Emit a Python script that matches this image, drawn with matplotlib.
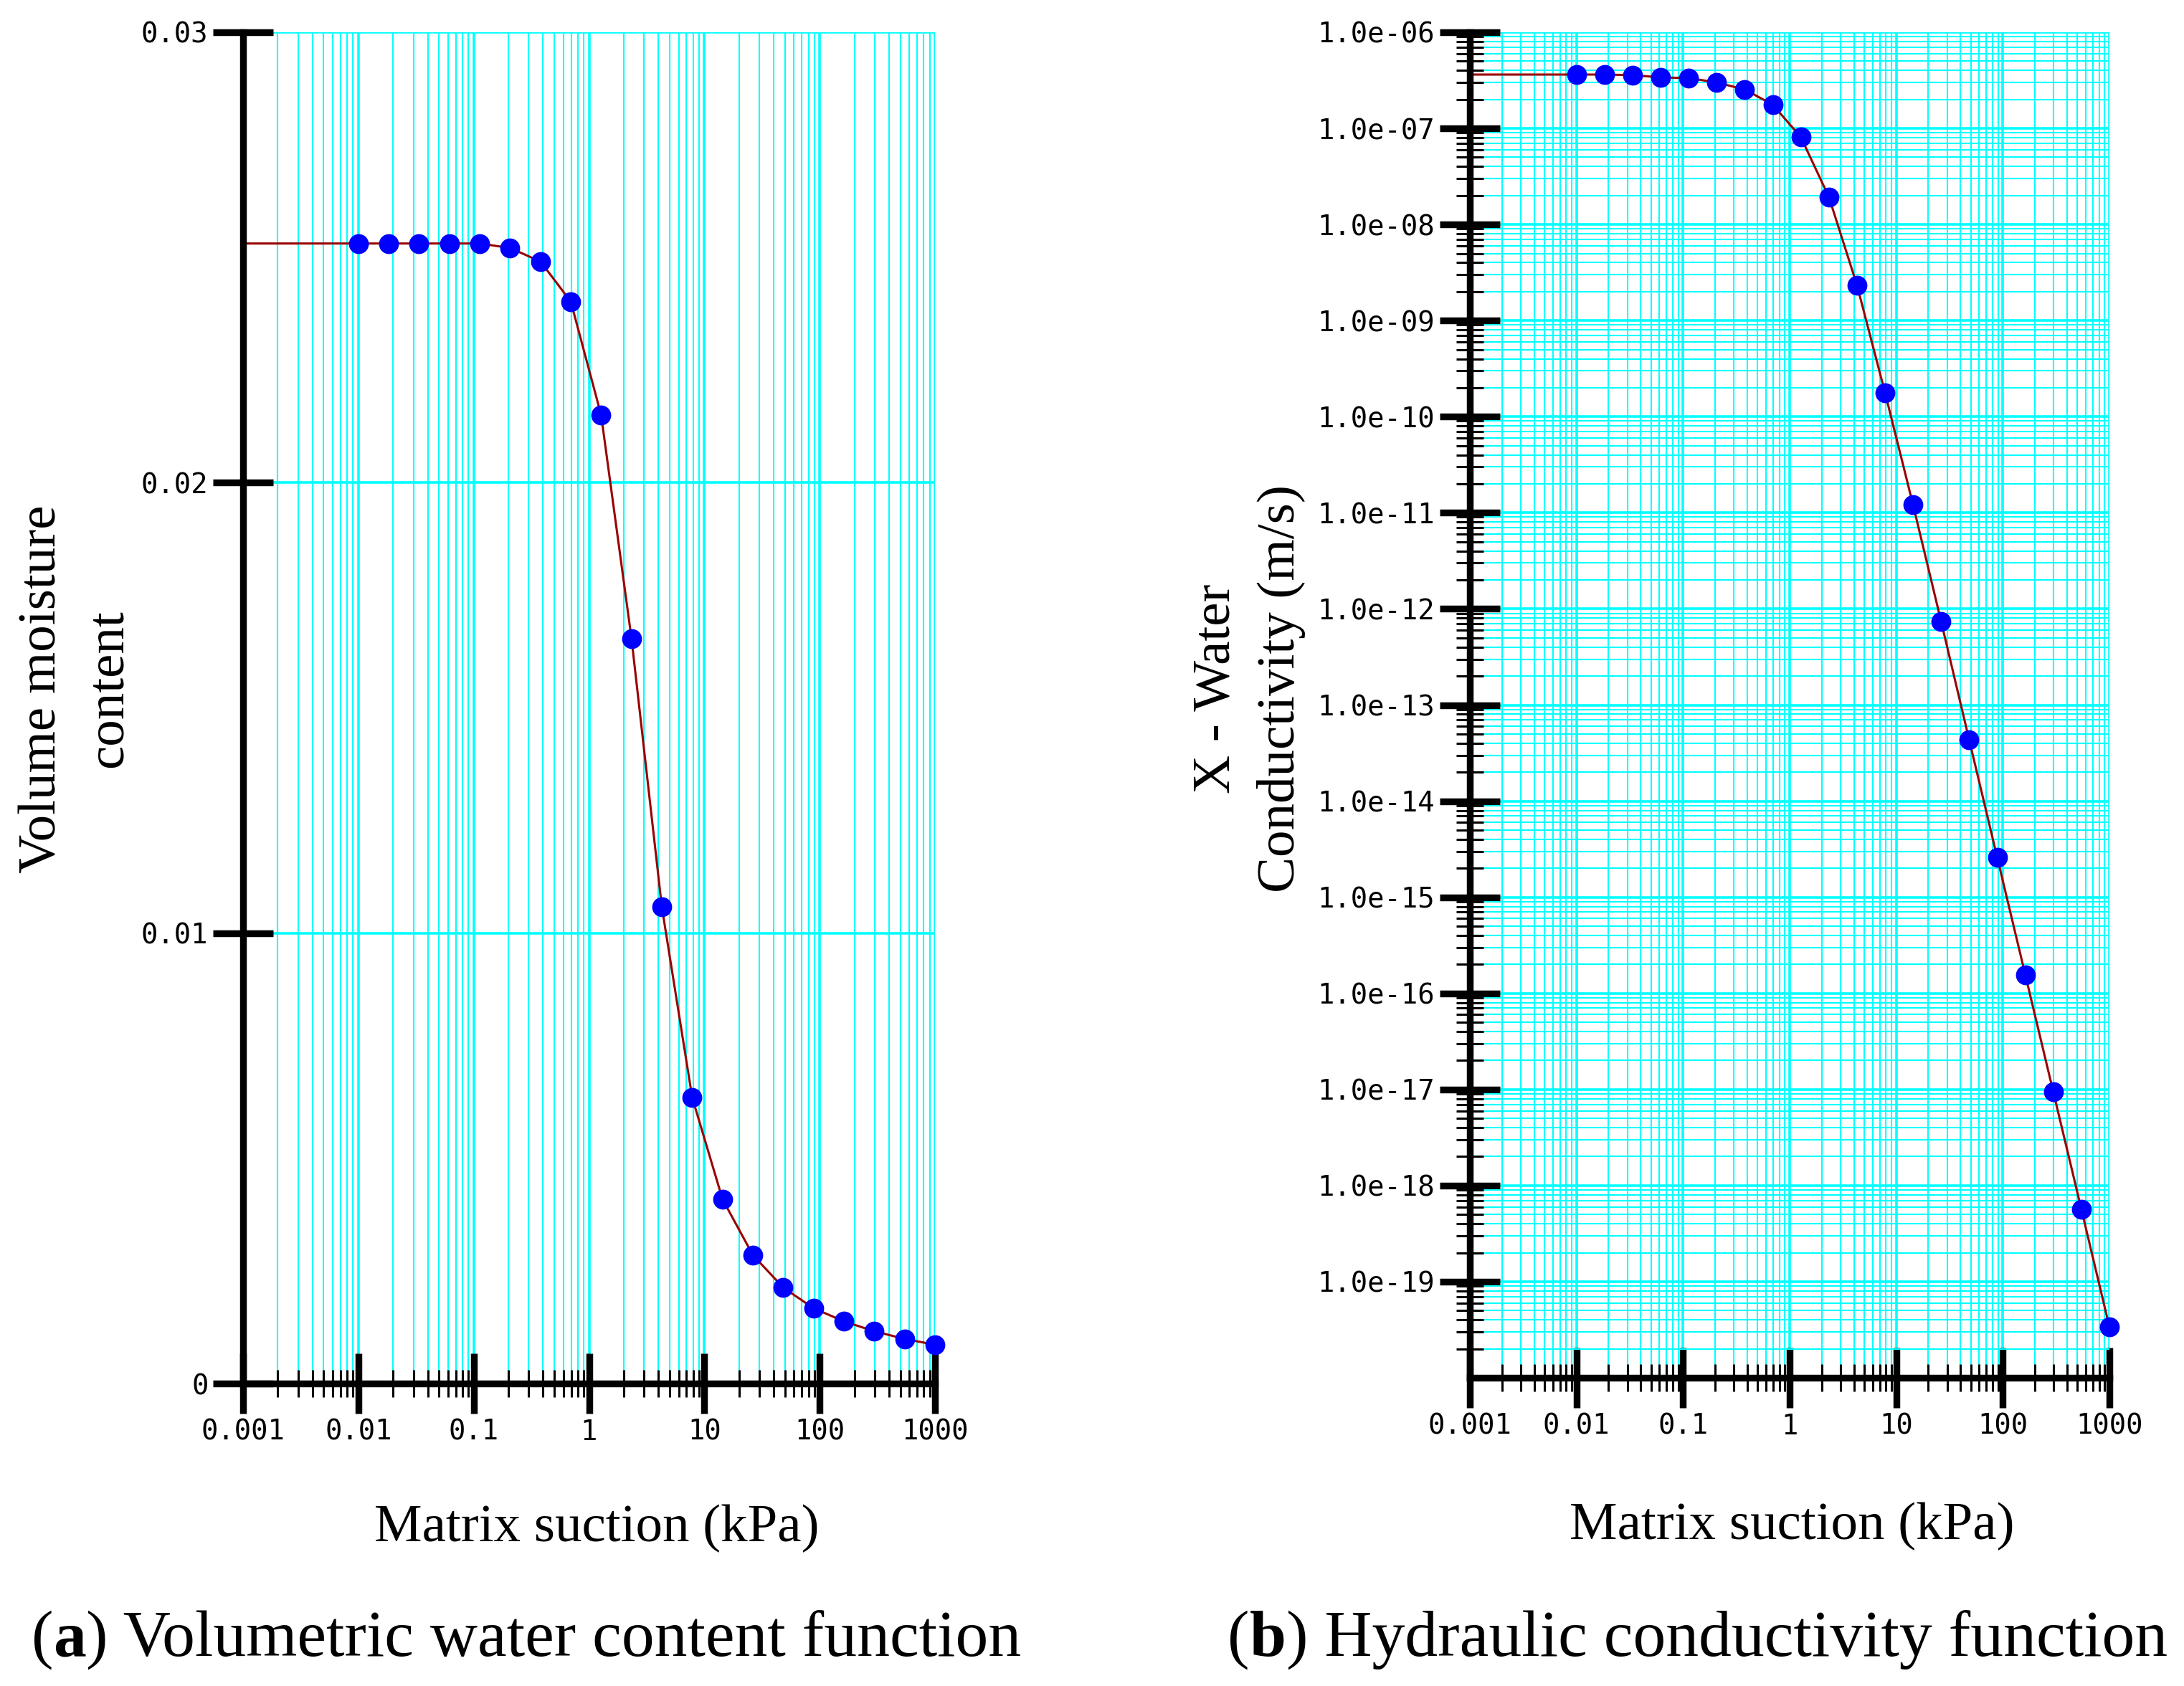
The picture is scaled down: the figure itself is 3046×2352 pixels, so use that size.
import numpy as np
import matplotlib
matplotlib.use("Agg")
import matplotlib.pyplot as plt
from matplotlib.ticker import FixedLocator, FixedFormatter, LogLocator, NullFormatter, NullLocator

# ---------------- data ----------------
suction = [0.01, 0.01833, 0.03360, 0.06158, 0.1129, 0.2069, 0.3793, 0.6952,
           1.274, 2.336, 4.281, 7.848, 14.38, 26.37, 48.33, 88.59,
           162.4, 297.6, 545.6, 1000.0]
theta = [0.02531, 0.02531, 0.02531, 0.02531, 0.02531, 0.02521, 0.02491, 0.02402,
         0.02150, 0.01654, 0.01058, 0.00635, 0.00409, 0.00285, 0.00213, 0.00167,
         0.00138, 0.00116, 0.00099, 0.00086]
conductivity = [3.63e-7, 3.63e-7, 3.58e-7, 3.39e-7, 3.34e-7, 3.00e-7, 2.54e-7, 1.76e-7,
                8.1e-8, 1.93e-8, 2.34e-9, 1.78e-10, 1.21e-11, 7.4e-13, 4.34e-14, 2.59e-15,
                1.56e-16, 9.4e-18, 5.66e-19, 3.37e-20]
plateau_start = 0.001

x_ticks = [0.001, 0.01, 0.1, 1, 10, 100, 1000]
x_ticklabels = ["0.001", "0.01", "0.1", "1", "10", "100", "1000"]
theta_ticks = [0, 0.01, 0.02, 0.03]
theta_ticklabels = ["0", "0.01", "0.02", "0.03"]
k_ticks = [1e-6, 1e-7, 1e-8, 1e-9, 1e-10, 1e-11, 1e-12, 1e-13,
           1e-14, 1e-15, 1e-16, 1e-17, 1e-18, 1e-19]
k_ticklabels = ["1.0e-06", "1.0e-07", "1.0e-08", "1.0e-09", "1.0e-10", "1.0e-11",
                "1.0e-12", "1.0e-13", "1.0e-14", "1.0e-15", "1.0e-16", "1.0e-17",
                "1.0e-18", "1.0e-19"]

# ---------------- style ----------------
W, H = 3046, 2352
DPI = 200
GRID = "#00FFFF"
LINE = "#990000"
MARK = "#0000FF"
SERIF = "Liberation Serif"
MONO = "DejaVu Sans Mono"

fig = plt.figure(figsize=(W / DPI, H / DPI), dpi=DPI)
fig.patch.set_facecolor("white")


def frac_box(x0, y_top, x1, y_bot):
    return [x0 / W, 1 - y_bot / H, (x1 - x0) / W, (y_bot - y_top) / H]


ax1 = fig.add_axes(frac_box(339, 45, 1304, 1930))
ax2 = fig.add_axes(frac_box(2050, 45, 2942, 1922))


def style_common(ax):
    ax.set_xscale("log")
    ax.set_xlim(0.001, 1000)
    ax.xaxis.set_major_locator(FixedLocator(x_ticks))
    ax.xaxis.set_major_formatter(FixedFormatter(x_ticklabels))
    ax.xaxis.set_minor_locator(LogLocator(base=10, subs=np.arange(2, 10), numticks=100))
    ax.xaxis.set_minor_formatter(NullFormatter())
    for s in ("top", "right"):
        ax.spines[s].set_visible(False)
    for s in ("left", "bottom"):
        ax.spines[s].set_linewidth(3.4)
        ax.spines[s].set_color("black")
        ax.spines[s].set_zorder(5)
    ax.set_axisbelow(True)
    ax.tick_params(axis="both", which="major", direction="inout", width=3.4,
                   length=30, labelsize=14, labelcolor="black", pad=2.5,
                   labelfontfamily=MONO)
    ax.tick_params(axis="both", which="minor", direction="inout", width=1.1,
                   length=13.5)
    ax.grid(True, which="major", axis="both", color=GRID, lw=1.3)
    ax.set_facecolor("white")


# ---- panel (a) ----
style_common(ax1)
ax1.set_ylim(0, 0.03)
ax1.yaxis.set_major_locator(FixedLocator(theta_ticks))
ax1.yaxis.set_major_formatter(FixedFormatter(theta_ticklabels))
ax1.yaxis.set_minor_locator(NullLocator())
ax1.grid(True, which="minor", axis="x", color=GRID, lw=0.75)
ax1.plot([plateau_start] + suction, [theta[0]] + theta, color=LINE, lw=1.1,
         zorder=3, clip_on=False)
ax1.plot(suction, theta, "o", color=MARK, mec=MARK, ms=9, zorder=4, clip_on=False)

# ---- panel (b) ----
style_common(ax2)
ax2.set_yscale("log")
ax2.set_ylim(1e-20, 1e-6)
ax2.yaxis.set_major_locator(FixedLocator(k_ticks))
ax2.yaxis.set_major_formatter(FixedFormatter(k_ticklabels))
ax2.yaxis.set_minor_locator(LogLocator(base=10, subs=np.arange(2, 10), numticks=100))
ax2.yaxis.set_minor_formatter(NullFormatter())
ax2.grid(True, which="minor", axis="both", color=GRID, lw=0.75)
ax2.plot([plateau_start] + suction, [conductivity[0]] + conductivity, color=LINE,
         lw=1.1, zorder=3, clip_on=False)
ax2.plot(suction, conductivity, "o", color=MARK, mec=MARK, ms=9, zorder=4,
         clip_on=False)

# ---------------- axis labels ----------------
LAB = 27
fig.text(832 / W, 1 - 2150 / H, "Matrix suction (kPa)", ha="center", va="baseline",
         fontsize=LAB, family=SERIF)
fig.text(2499 / W, 1 - 2147 / H, "Matrix suction (kPa)", ha="center", va="baseline",
         fontsize=LAB, family=SERIF)

yc = 1 - 961 / H
for xb, s in ((78, "Volume moisture"), (170, "content"),
              (1715, "X - Water"), (1805, "Conductivity (m/s)")):
    fig.text(xb / W, yc, s, rotation=90, rotation_mode="anchor", ha="center",
             va="baseline", fontsize=LAB, family=SERIF)

# ---------------- captions ----------------
CAP = 33


def caption(x_px, base_px, letter, rest):
    t1 = fig.text(x_px / W, 1 - base_px / H, "(", ha="left", va="baseline",
                  fontsize=CAP, family=SERIF)
    t2 = ax1.annotate(letter, xy=(1, 0), xycoords=t1, ha="left", va="bottom",
                      fontsize=CAP, family=SERIF, fontweight="bold",
                      annotation_clip=False)
    ax1.annotate(rest, xy=(1, 0), xycoords=t2, ha="left", va="bottom",
                 fontsize=CAP, family=SERIF, annotation_clip=False)


caption(44, 2310, "a", ") Volumetric water content function")
caption(1712, 2310, "b", ") Hydraulic conductivity function")

fig.savefig("out.png", dpi=DPI, facecolor="white")
